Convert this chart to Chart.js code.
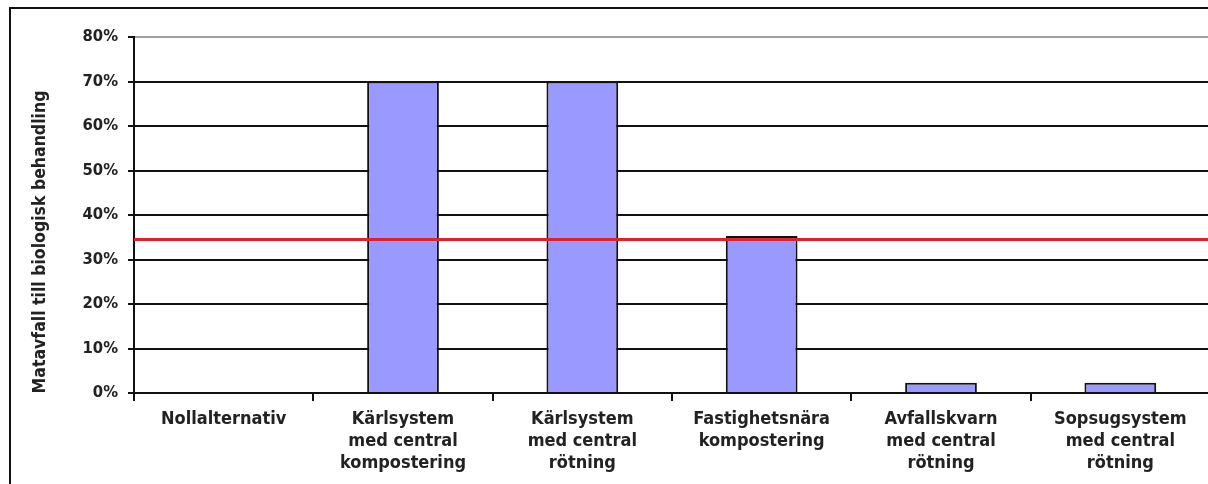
<!DOCTYPE html>
<html>
<head>
<meta charset="utf-8">
<script src="https://cdn.jsdelivr.net/npm/chart.js@4"></script>
<style>
  html, body { margin: 0; padding: 0; background: #fff; overflow: hidden; }
  #wrap { width: 1208px; height: 484px; position: relative; overflow: hidden; }
  canvas { display: block; }
</style>
</head>
<body>
<div id="wrap"><canvas id="c" width="1210" height="484"></canvas></div>
<script>
// Share of food waste sent to biological treatment, per collection system
const categories = [
  'Nollalternativ',
  ['Kärlsystem', 'med central', 'kompostering'],
  ['Kärlsystem', 'med central', 'rötning'],
  ['Fastighetsnära', 'kompostering'],
  ['Avfallskvarn', 'med central', 'rötning'],
  ['Sopsugsystem', 'med central', 'rötning']
];
const shares = [0, 70, 70, 35.3, 2.3, 2.3];
const targetShare = 34.5;
const yTicks = [0, 10, 20, 30, 40, 50, 60, 70, 80];
const yTitle = 'Matavfall till biologisk behandling';

const FONT = "'Liberation Sans Narrow', 'DejaVu Sans Condensed', 'Liberation Sans', sans-serif";

// Outer frame of the figure
const framePlugin = {
  id: 'frame',
  beforeDraw(chart) {
    const ctx = chart.ctx;
    ctx.save();
    ctx.strokeStyle = '#111';
    ctx.lineWidth = 2;
    ctx.beginPath();
    ctx.moveTo(10, 484);
    ctx.lineTo(10, 8);
    ctx.lineTo(1210, 8);
    ctx.stroke();
    ctx.restore();
  }
};

// Horizontal target line across the plot
const targetPlugin = {
  id: 'target',
  afterDatasetsDraw(chart) {
    const { ctx, chartArea, scales } = chart;
    const y = scales.y.getPixelForValue(targetShare);
    ctx.save();
    ctx.strokeStyle = '#e0202c';
    ctx.lineWidth = 3;
    ctx.beginPath();
    ctx.moveTo(chartArea.left, y);
    ctx.lineTo(chartArea.right, y);
    ctx.stroke();
    ctx.restore();
  }
};

// Rotated axis title placed beside the tick labels
const yTitlePlugin = {
  id: 'ytitle',
  afterDraw(chart) {
    const ctx = chart.ctx;
    ctx.save();
    ctx.translate(40, 242);
    ctx.rotate(-Math.PI / 2);
    ctx.fillStyle = '#222';
    ctx.font = 'bold 17.5px ' + FONT;
    ctx.textAlign = 'center';
    ctx.textBaseline = 'middle';
    ctx.fillText(yTitle, 0, 0);
    ctx.restore();
  }
};

new Chart(document.getElementById('c'), {
  type: 'bar',
  data: {
    labels: categories,
    datasets: [{
      data: shares,
      backgroundColor: '#9999ff',
      borderColor: '#111',
      borderWidth: 2,
      categoryPercentage: 1,
      barPercentage: 0.4
    }]
  },
  options: {
    responsive: false,
    animation: false,
    devicePixelRatio: 1,
    layout: { padding: { left: 0, top: 37, right: 0, bottom: 0 } },
    plugins: { legend: { display: false }, tooltip: { enabled: false } },
    scales: {
      y: {
        min: 0, max: 80,
        afterFit(scale) { scale.width = 134; },
        afterBuildTicks(scale) { scale.ticks = yTicks.map(v => ({ value: v })); },
        ticks: {
          padding: 10,
          color: '#222',
          font: { family: FONT, size: 16.5, weight: 'bold' },
          callback: v => v + '%'
        },
        grid: {
          color: ctx => ctx.tick && ctx.tick.value === 80 ? '#a0a0a0' : '#111',
          lineWidth: 2,
          tickLength: 6,
          tickColor: '#111'
        },
        border: { color: '#111', width: 2 }
      },
      x: {
        afterFit(scale) { scale.height = 91; },
        ticks: {
          padding: 8,
          color: '#222',
          maxRotation: 0,
          autoSkip: false,
          font: { family: FONT, size: 18, weight: 'bold', lineHeight: 1.2 }
        },
        grid: {
          offset: true,
          drawOnChartArea: false,
          color: '#111',
          lineWidth: 2,
          tickLength: 8
        },
        border: { color: '#111', width: 2 }
      }
    }
  },
  plugins: [framePlugin, targetPlugin, yTitlePlugin]
});
</script>
</body>
</html>
